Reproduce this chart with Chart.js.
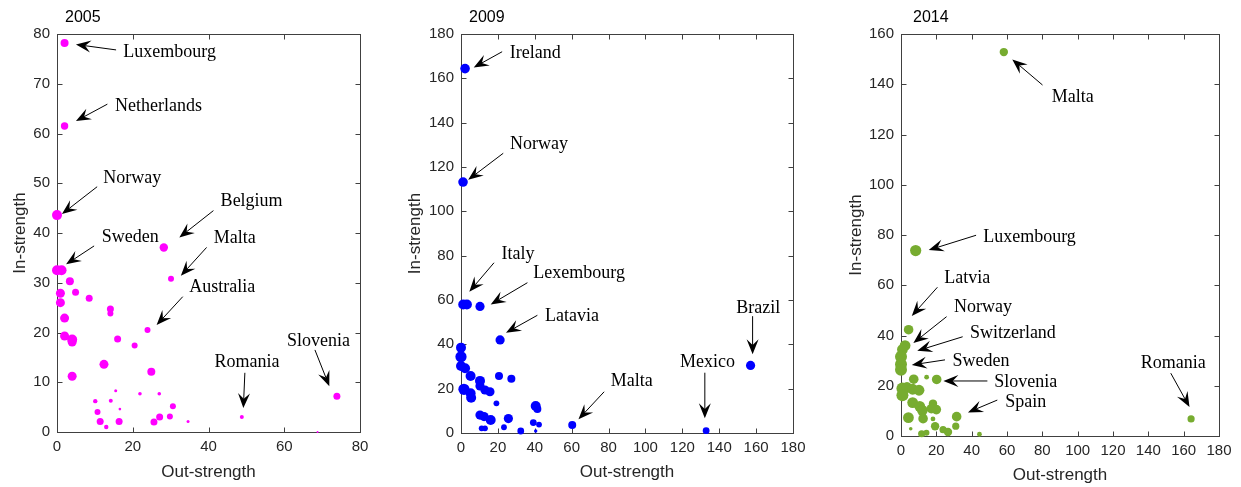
<!DOCTYPE html>
<html>
<head>
<meta charset="utf-8">
<script src="https://cdn.jsdelivr.net/npm/chart.js@4.4.1/dist/chart.umd.min.js"></script>
<style>
body{margin:0;background:#fff;width:1241px;height:487px;overflow:hidden;position:relative}
canvas{position:absolute;top:0}
</style>
</head>
<body>
<canvas id="c2005" width="400" height="487" style="left:0"></canvas>
<canvas id="c2009" width="415" height="487" style="left:405px"></canvas>
<canvas id="c2014" width="405" height="487" style="left:836px"></canvas>
<script>
// 2005
const out2005=[2.0,2.0,0,28.2,30.1,0,1.2,3.4,4.9,0.9,0.9,8.5,14.1,14.1,2.0,23.9,2.0,4.0,4.0,16.0,20.5,4.0,12.4,24.9,15.5,21.9,27.0,10.1,14.2,16.6,30.6,10.7,11.4,13.0,16.4,25.6,27.1,29.8,34.6,48.8,73.9,68.8];
const in2005 =[78.2,61.5,43.6,37.1,30.8,32.5,32.5,30.3,28.1,27.9,26.0,26.9,24.7,23.8,22.9,20.5,19.3,18.6,18.1,18.7,17.4,11.2,13.6,12.1,8.3,7.7,7.7,6.2,6.3,4.6,5.2,4.0,2.1,1.0,2.1,2.0,3.0,3.1,2.1,3.0,7.2,0];
const size2005=[4,3.7,5,4.2,3,5,5,4,3.5,4.5,4.5,3.5,3.5,3,4.5,3,4.5,5,4.5,3.5,3,4.5,4.5,4,1.5,1.8,1.8,2.2,2,1.3,3,3,3.5,2.2,3.5,3.5,3.5,3,1.5,2,3.5,1];

// 2009
const out2009=[2.2,1.1,1.2,3.2,10.3,21.2,157.0,132.9,60.3,0,0,0,2.2,5.2,20.6,27.3,1.6,5.2,5.5,10.3,10.3,13.0,15.7,19.2,40.5,41.4,10.3,12.5,16.1,25.7,39.2,42.3,11.2,13.0,23.3,32.4,40.5];
const in2009 =[164.4,113.2,58.0,58.0,57.1,42.0,30.5,1.05,3.6,38.5,34.4,30.2,29.2,25.7,25.7,24.5,19.7,17.9,15.9,23.5,21.2,19.4,18.6,13.4,12.2,10.8,8.1,7.4,5.9,6.5,4.7,3.8,2.1,2.1,2.6,0.9,0.9];
const size2009=[4.8,4.8,5,5,4.6,4.6,4.6,3.4,4,5,5.6,5,5,5,4,4,5.6,5,5,5,4.6,4.6,4.6,2.9,5,4,4.6,4.6,5,4.6,3.4,2.9,2.9,2.9,2.9,3.4,1.7];

// 2014
const out2014=[58.2,8.3,164.2,4.3,2.3,0.8,0,0,0,7.2,14.5,20.2,0.8,3.4,0.8,6.6,10.2,6.6,10.6,12.1,18.1,20.0,17.2,4.2,12.5,18.1,31.5,31.0,19.3,23.8,26.6,5.5,11.7,14.4,44.4];
const in2014 =[152.8,73.8,6.8,42.3,36.0,34.4,31.5,28.6,26.4,22.6,23.4,22.5,18.9,19.3,16.2,18.6,18.2,13.3,11.8,10.2,12.9,10.5,10.9,7.3,6.9,6.8,7.7,3.9,3.9,2.5,1.6,2.9,0.9,1.3,0.7];
const size2014=[4.2,5.6,3.6,4.8,5.4,5.4,6,6,6,4.8,2.4,4.8,6,5.4,6,5.4,5.4,5.4,5.4,5.4,4.2,4.8,4.8,5.4,4.8,2.4,4.8,3.6,4.2,3.6,4.2,1.8,3.6,3,2.4];

// labels: text anchor, arrow tail, arrow head (data units)
const notes2005=[
  {label:'Luxembourg', at:[17.5,76.3], from:[15.6,76.8], to:[5.0,77.9]},
  {label:'Netherlands', at:[15.3,65.5], from:[13.3,65.9], to:[5.0,62.5]},
  {label:'Norway', at:[12.2,51.1], from:[10.6,49.3], to:[1.3,43.8]},
  {label:'Belgium', at:[43.2,46.3], from:[41.3,44.5], to:[32.3,39.1]},
  {label:'Malta', at:[41.4,39.0], from:[39.5,37.1], to:[32.7,31.4]},
  {label:'Australia', at:[34.9,29.1], from:[33.2,27.2], to:[26.3,21.5]},
  {label:'Sweden', at:[11.8,39.2], from:[9.8,37.4], to:[2.4,33.7]},
  {label:'Romania', at:[41.6,14.0], from:[49.6,11.9], to:[49.2,4.8]},
  {label:'Slovenia', at:[60.7,18.3], from:[68.1,16.5], to:[71.9,9.2]}
];
const notes2009=[
  {label:'Ireland', at:[26.4,171.3], from:[22.3,172.0], to:[6.9,164.9]},
  {label:'Norway', at:[26.6,130.4], from:[22.9,126.2], to:[3.9,114.2]},
  {label:'Italy', at:[22.0,80.7], from:[17.9,76.8], to:[4.5,63.7]},
  {label:'Lexembourg', at:[39.2,72.0], from:[36.0,67.8], to:[16.1,58.0]},
  {label:'Latavia', at:[45.5,52.8], from:[41.4,53.1], to:[24.4,45.2]},
  {label:'Brazil', at:[149.2,56.2], from:[158.1,52.7], to:[158.1,35.5]},
  {label:'Mexico', at:[118.7,31.9], from:[132.2,27.2], to:[132.2,6.6]},
  {label:'Malta', at:[81.2,23.4], from:[77.6,18.6], to:[63.7,6.2]}
];
const notes2014=[
  {label:'Malta', at:[85.3,134.8], from:[80.1,139.7], to:[63.0,149.9]},
  {label:'Luxembourg', at:[46.5,79.0], from:[42.5,79.9], to:[15.7,74.0]},
  {label:'Latvia', at:[24.5,62.7], from:[20.6,59.2], to:[6.1,47.8]},
  {label:'Norway', at:[30.0,51.2], from:[25.8,47.5], to:[7.0,37.0]},
  {label:'Switzerland', at:[39.0,40.8], from:[34.9,39.5], to:[9.2,33.9]},
  {label:'Sweden', at:[29.2,29.9], from:[24.9,30.3], to:[6.1,28.3]},
  {label:'Slovenia', at:[52.8,21.3], from:[48.9,21.9], to:[24.0,21.9]},
  {label:'Spain', at:[59.0,13.6], from:[54.5,14.3], to:[37.9,9.4]},
  {label:'Romania', at:[135.7,28.9], from:[152.7,25.0], to:[163.3,11.5]}
];

function arrow(ctx,x1,y1,x2,y2){
  let a=Math.atan2(y2-y1,x2-x1), ux=Math.cos(a), uy=Math.sin(a), L=15, W=6;
  let bx=x2-ux*L, by=y2-uy*L, nx=x2-ux*L*0.62, ny=y2-uy*L*0.62;
  ctx.beginPath(); ctx.moveTo(x1,y1); ctx.lineTo(nx,ny); ctx.stroke();
  ctx.beginPath(); ctx.moveTo(x2,y2); ctx.lineTo(bx-uy*W,by+ux*W); ctx.lineTo(nx,ny); ctx.lineTo(bx+uy*W,by-ux*W); ctx.closePath(); ctx.fill();
}

// box with inward ticks on all sides, title, and arrow labels
const frame={
  id:'frame',
  beforeDatasetsDraw(chart,args,opts){
    let {ctx,chartArea:a,scales:{x,y}}=chart;
    ctx.save();
    ctx.strokeStyle='#404040'; ctx.lineWidth=1;
    let L=Math.round(a.left)+0.5, R=Math.round(a.right)+0.5, T=Math.round(a.top)+0.5, B=Math.round(a.bottom)+0.5;
    ctx.strokeRect(L,T,R-L,B-T);
    ctx.beginPath();
    x.ticks.forEach(t=>{let p=Math.round(x.getPixelForValue(t.value))+0.5; ctx.moveTo(p,B); ctx.lineTo(p,B-5); ctx.moveTo(p,T); ctx.lineTo(p,T+5);});
    y.ticks.forEach(t=>{let p=Math.round(y.getPixelForValue(t.value))+0.5; ctx.moveTo(L,p); ctx.lineTo(L+5,p); ctx.moveTo(R,p); ctx.lineTo(R-5,p);});
    ctx.stroke();
    ctx.fillStyle='#000'; ctx.font='16px "Liberation Sans"'; ctx.textBaseline='middle'; ctx.textAlign='left';
    ctx.fillText(opts.title,a.left+opts.titleDx,18);
    ctx.restore();
  },
  afterDatasetsDraw(chart,args,opts){
    let {ctx,scales:{x,y}}=chart;
    ctx.save();
    ctx.strokeStyle='#000'; ctx.fillStyle='#000'; ctx.lineWidth=1;
    ctx.font='18px "Liberation Serif"'; ctx.textBaseline='middle'; ctx.textAlign='left';
    opts.notes.forEach(n=>{
      ctx.fillText(n.label,x.getPixelForValue(n.at[0]),y.getPixelForValue(n.at[1]));
      arrow(ctx,x.getPixelForValue(n.from[0]),y.getPixelForValue(n.from[1]),x.getPixelForValue(n.to[0]),y.getPixelForValue(n.to[1]));
    });
    ctx.restore();
  }
};

function makeChart(id,c){
  let pts=c.xs.map((v,i)=>({x:v,y:c.ys[i],r:c.rs[i]}));
  let tickFont={family:'Liberation Sans',size:15};
  let titleFont={family:'Liberation Sans',size:17};
  return new Chart(document.getElementById(id),{
    type:'bubble',
    data:{datasets:[{data:pts,backgroundColor:c.color,borderWidth:0,hoverBorderWidth:0,clip:false}]},
    options:{
      responsive:false,animation:false,events:[],
      layout:{padding:{top:34,right:c.padRight,left:0,bottom:0}},
      plugins:{legend:{display:false},tooltip:{enabled:false},frame:{title:c.title,titleDx:c.titleDx,notes:c.notes}},
      scales:{
        x:{type:'linear',min:0,max:c.xMax,grid:{display:false,drawTicks:false},border:{display:false},
          ticks:{stepSize:c.xStep,color:'#262626',font:tickFont,padding:6,maxRotation:0,autoSkip:false},
          title:{display:true,text:'Out-strength',color:'#262626',font:titleFont,padding:{top:0,bottom:c.xTitlePad}},
          afterFit:s=>{s.height=c.xAxisH;}},
        y:{type:'linear',min:0,max:c.yMax,grid:{display:false,drawTicks:false},border:{display:false},
          ticks:{stepSize:c.yStep,color:'#262626',font:tickFont,padding:7,autoSkip:false},
          title:{display:true,text:'In-strength',color:'#262626',font:titleFont,padding:{top:c.yTitlePad,bottom:0}},
          afterFit:s=>{s.width=c.yAxisW;}}
      }
    },
    plugins:[frame]
  });
}

makeChart('c2005',{xs:out2005,ys:in2005,rs:size2005,color:'#ff00ff',title:'2005',titleDx:8,notes:notes2005,
  xMax:80,xStep:20,yMax:80,yStep:10,yAxisW:57,xAxisH:55,padRight:40,xTitlePad:4,yTitlePad:10});
makeChart('c2009',{xs:out2009,ys:in2009,rs:size2009,color:'#0000ff',title:'2009',titleDx:8,notes:notes2009,
  xMax:180,xStep:20,yMax:180,yStep:20,yAxisW:56,xAxisH:54,padRight:27,xTitlePad:4,yTitlePad:0});
makeChart('c2014',{xs:out2014,ys:in2014,rs:size2014,color:'#77ac30',title:'2014',titleDx:12,notes:notes2014,
  xMax:180,xStep:20,yMax:160,yStep:20,yAxisW:65,xAxisH:51,padRight:22,xTitlePad:1,yTitlePad:10});
</script>
</body>
</html>
